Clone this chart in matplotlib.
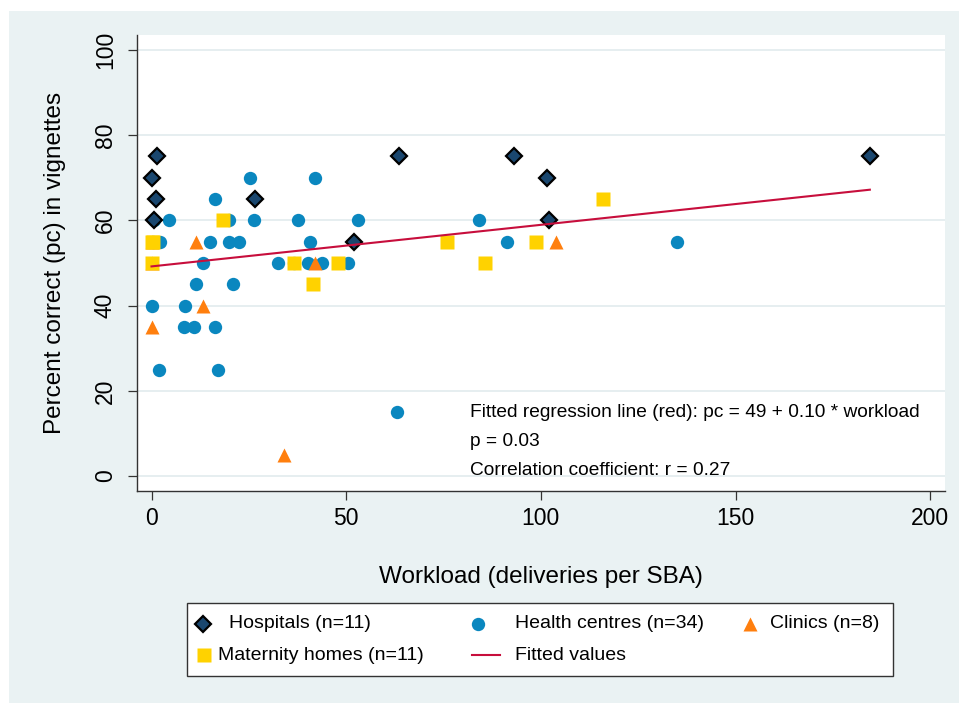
import matplotlib
matplotlib.use("Agg")
import matplotlib.pyplot as plt
from matplotlib.patches import Rectangle
from matplotlib.lines import Line2D

plt.rcParams['font.family'] = ['Liberation Sans', 'DejaVu Sans']

# workload (deliveries per SBA) and percent correct, per facility type
hosp_x = [0.25, 1.4, 1.1, 0.6, 26.7, 52, 63.6, 93, 101.5, 102, 184.5]
hosp_y = [70, 75, 65, 60, 65, 55, 75, 75, 70, 60, 75]

hc_x = [25.4, 16.2, 4.4, 20, 26.2, 2.3, 15.1, 20, 22.5, 13.1, 32.5,
        11.5, 21, 0.2, 8.7, 8.3, 11, 16.4, 2, 17.1, 42, 37.6, 53,
        40.8, 40.2, 43.9, 50.5, 63, 84, 91.3, 135, 0.5, 0.6, 36.5]
hc_y = [70, 65, 60, 60, 60, 55, 55, 55, 55, 50, 50,
        45, 45, 40, 40, 35, 35, 35, 25, 25, 70, 60, 60,
        55, 50, 50, 50, 15, 60, 55, 55, 55, 60, 50]

clin_x = [0, 13.3, 11.3, 0, 34, 42, 104, 0.2]
clin_y = [35, 40, 55, 55, 5, 50, 55, 50]

mat_x = [0.2, 0.2, 18.4, 36.5, 41.6, 48, 76, 85.7, 98.7, 116, 0.3]
mat_y = [55, 50, 60, 50, 45, 50, 55, 50, 55, 65, 55]

fit_x = [0, 184.5]
fit_y = [49.2, 67.2]

x_ticks = [0, 50, 100, 150, 200]
y_ticks = [0, 20, 40, 60, 80, 100]
notes = ["Fitted regression line (red): pc = 49 + 0.10 * workload",
         "p = 0.03",
         "Correlation coefficient: r = 0.27"]
leg_labels = ['Hospitals (n=11)', 'Health centres (n=34)', 'Clinics (n=8)',
              'Maternity homes (n=11)', 'Fitted values']

bg = '#EAF2F3'
c_hosp = '#1A476F'
c_hc = '#0A87BF'
c_clin = '#FF7F0E'
c_mat = '#FFD200'
c_fit = '#C70E3C'

W, H = 959, 703
fig = plt.figure(figsize=(W / 100, H / 100), dpi=100, facecolor='white')
fig.patches.append(Rectangle((9 / W, 0), 1, 1 - 11 / H, transform=fig.transFigure,
                             facecolor=bg, edgecolor='none', zorder=-10))

ax = fig.add_axes([137 / W, 1 - 491 / H, 808 / W, 456 / H])
ax.set_facecolor('white')

hosp_style = dict(marker='D', ms=8.6, mfc=c_hosp, mec='black', mew=1.6, ls='none')
hc_style = dict(marker='o', ms=9.6, mfc=c_hc, mec='none', ls='none')
clin_style = dict(marker='^', ms=10.5, mfc=c_clin, mec='none', ls='none')
mat_style = dict(marker='s', ms=9.4, mfc=c_mat, mec='none', ls='none')
fit_style = dict(color=c_fit, lw=1.5)

ax.plot(hosp_x, hosp_y, zorder=3, **hosp_style)
ax.plot(hc_x, hc_y, zorder=2, **hc_style)
ax.plot(clin_x, clin_y, zorder=2.5, **clin_style)
ax.plot(mat_x, mat_y, zorder=2.7, **mat_style)
ax.plot(fit_x, fit_y, '-', zorder=4, **fit_style)

ax.set_xlim(-3.73, 203.8)
ax.set_ylim(-3.5, 103.5)
ax.set_xticks(x_ticks)
ax.set_yticks(y_ticks)
ax.grid(axis='y', color='#E4EDEF', lw=1.3, zorder=0)
ax.set_axisbelow(True)
for s in ['top', 'right']:
    ax.spines[s].set_visible(False)
for s in ['left', 'bottom']:
    ax.spines[s].set_color('#333333')
    ax.spines[s].set_linewidth(1.0)
ax.tick_params(axis='both', length=6.5, width=0.9, color='#333333', labelsize=16.5)
ax.tick_params(axis='x', pad=5)
ax.tick_params(axis='y', pad=8)
for lab in ax.get_yticklabels():
    lab.set_rotation(90)
    lab.set_va('center')

ax.set_xlabel('Workload (deliveries per SBA)', fontsize=17.5, labelpad=26)
ax.set_ylabel('Percent correct (pc) in vignettes', fontsize=17.5, labelpad=20)

for i, t in enumerate(notes):
    ax.text(81.8, 15 - i * 6.8, t, fontsize=13.8, va='center', ha='left')

# legend box, laid out by hand like the Stata one
fig.patches.append(Rectangle((187 / W, 1 - 676 / H), 706 / W, 73 / H,
                             transform=fig.transFigure, facecolor='white',
                             edgecolor='#333333', lw=1.0, zorder=5))
keys = [(203, 624, hosp_style, 229), (478, 624, hc_style, 515), (750, 624, clin_style, 770),
        (204, 655, mat_style, 218), (486, 655, None, 515)]
key_scale = [0.9, 1.0, 1.0, 1.0, 1]
for (kx, ky, st, tx), lab, sc in zip(keys, leg_labels, key_scale):
    if st is None:
        fig.lines.append(Line2D([(kx - 14) / W, (kx + 14) / W], [1 - ky / H] * 2,
                                transform=fig.transFigure, zorder=6, **fit_style))
    else:
        st = dict(st)
        st['ms'] = st['ms'] * sc
        fig.lines.append(Line2D([kx / W], [1 - ky / H], transform=fig.transFigure,
                                zorder=6, **st))
    fig.text(tx / W, 1 - ky / H, lab, fontsize=14, va='center', ha='left', zorder=7)

fig.savefig('out.png', dpi=100, facecolor='white')
